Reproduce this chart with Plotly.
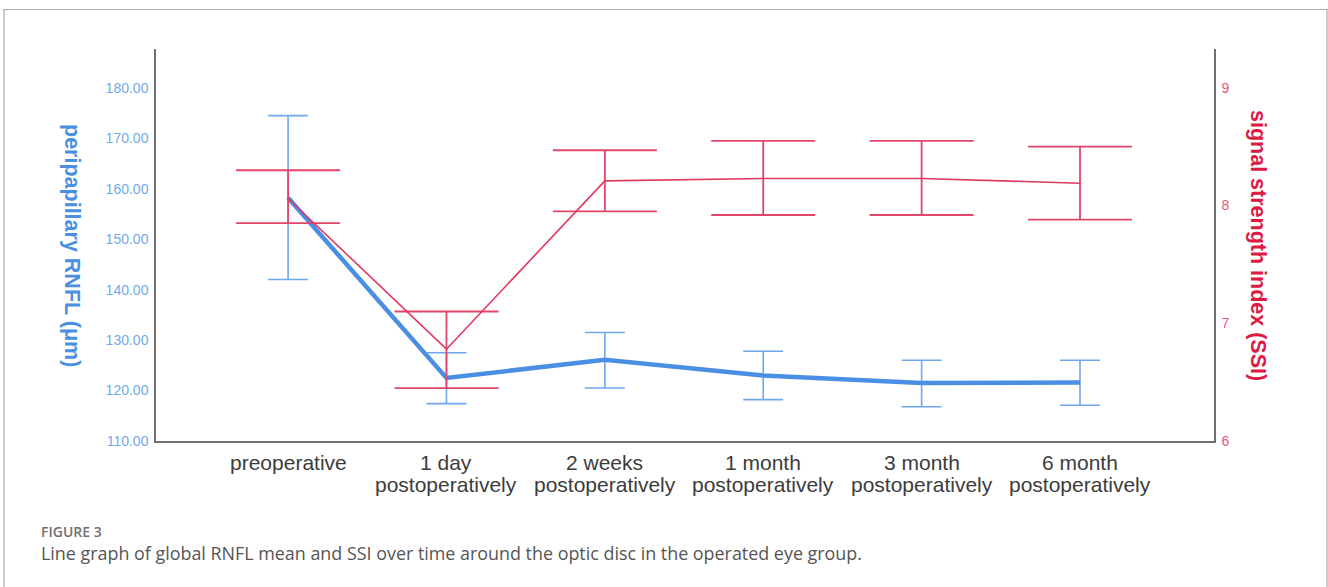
import plotly.graph_objects as go

# Time points (x categories): first and second label lines
label_top = ["preoperative", "1 day", "2 weeks", "1 month", "3 month", "6 month"]
label_bottom = ["", "postoperatively", "postoperatively", "postoperatively",
                "postoperatively", "postoperatively"]

# Peripapillary RNFL (µm): mean with upper / lower error-bar limits
rnfl_mean = [158.2, 122.5, 126.1, 123.0, 121.5, 121.6]
rnfl_upper = [174.5, 127.5, 131.5, 127.8, 126.0, 126.0]
rnfl_lower = [142.0, 117.4, 120.5, 118.2, 116.8, 117.1]

# Signal strength index (SSI): mean with upper / lower error-bar limits
ssi_mean = [8.06, 6.78, 8.21, 8.23, 8.23, 8.19]
ssi_upper = [8.30, 7.10, 8.47, 8.55, 8.55, 8.50]
ssi_lower = [7.85, 6.45, 7.95, 7.92, 7.92, 7.88]

# Axis tick labels
rnfl_ticks = [110, 120, 130, 140, 150, 160, 170, 180]
ssi_ticks = [6, 7, 8, 9]

BLUE_LINE = "#4a8fe3"
BLUE_BAR = "#6fa8ec"
BLUE_TICK = "#72a9e8"
BLUE_TITLE = "#4a90e2"
RED_LINE = "#e0395f"
RED_BAR = "#e3456b"
RED_TICK = "#e8557a"
RED_TITLE = "#dc1a42"
AXIS = "#707070"
TEXT = "#3c3c3c"
FONT = "Liberation Sans, Arial, sans-serif"

x = list(range(len(label_top)))

fig = go.Figure()

fig.add_trace(go.Scatter(
    x=x, y=rnfl_mean, mode="lines", yaxis="y",
    line=dict(color=BLUE_LINE, width=4.5),
    error_y=dict(
        type="data", symmetric=False,
        array=[u - m for u, m in zip(rnfl_upper, rnfl_mean)],
        arrayminus=[m - l for m, l in zip(rnfl_mean, rnfl_lower)],
        color=BLUE_BAR, thickness=1.6, width=20,
    ),
    showlegend=False,
))

fig.add_trace(go.Scatter(
    x=x, y=ssi_mean, mode="lines", yaxis="y2",
    line=dict(color=RED_LINE, width=1.6),
    error_y=dict(
        type="data", symmetric=False,
        array=[u - m for u, m in zip(ssi_upper, ssi_mean)],
        arrayminus=[m - l for m, l in zip(ssi_mean, ssi_lower)],
        color=RED_BAR, thickness=1.8, width=52,
    ),
    showlegend=False,
))

L, R, T, B = 156, 114, 49, 146
W, H = 1328, 587
pw, ph = W - L - R, H - T - B


def px_x(p):
    return (p - L) / pw


def px_y(p):
    return (H - B - p) / ph


annotations = [
    dict(text="<b>peripapillary RNFL (μm)</b>", xref="paper", yref="paper",
         x=px_x(72), y=px_y(245), textangle=90, showarrow=False,
         xanchor="center", yanchor="middle",
         font=dict(size=21.5, color=BLUE_TITLE, family=FONT)),
    dict(text="<b>signal strength index (SSI)</b>", xref="paper", yref="paper",
         x=px_x(1258), y=px_y(245), textangle=90, showarrow=False,
         xanchor="center", yanchor="middle",
         font=dict(size=21.5, color=RED_TITLE, family=FONT)),
    dict(text="FIGURE 3", xref="paper", yref="paper",
         x=px_x(39), y=px_y(531), showarrow=False,
         xanchor="left", yanchor="middle",
         font=dict(size=14, color="#707070", family="Open Sans, sans-serif",
                   weight=600)),
    dict(text="Line graph of global RNFL mean and SSI over time around the optic disc in the operated eye group.",
         xref="paper", yref="paper",
         x=px_x(39), y=px_y(553), showarrow=False,
         xanchor="left", yanchor="middle",
         font=dict(size=17.9, color="#555555", family="Open Sans, sans-serif")),
]

# Category labels, two lines per time point
for xi, top, bottom in zip(x, label_top, label_bottom):
    annotations.append(dict(
        text=top, xref="x", yref="paper", x=xi, y=px_y(463),
        showarrow=False, xanchor="center", yanchor="middle",
        font=dict(size=21, color=TEXT, family=FONT)))
    if bottom:
        annotations.append(dict(
            text=bottom, xref="x", yref="paper", x=xi, y=px_y(484),
            showarrow=False, xanchor="center", yanchor="middle",
            font=dict(size=21, color=TEXT, family=FONT)))

fig.update_layout(
    width=W, height=H,
    margin=dict(l=L, r=R, t=T, b=B, pad=0),
    paper_bgcolor="white", plot_bgcolor="white",
    font=dict(family=FONT, color=TEXT),
    xaxis=dict(
        range=[-0.834, 5.846], tickvals=x, showticklabels=False,
        showgrid=False, zeroline=False, showline=True,
        linecolor=AXIS, linewidth=1.5, ticks="",
    ),
    yaxis=dict(
        range=[110, 187.7], tickvals=rnfl_ticks,
        ticktext=[f"{v:.2f}" for v in rnfl_ticks],
        showgrid=False, zeroline=False, showline=True,
        linecolor=AXIS, linewidth=1.5, ticks="",
        ticklabelstandoff=3,
        tickfont=dict(size=14, color=BLUE_TICK),
    ),
    yaxis2=dict(
        range=[6, 9.33], tickvals=ssi_ticks, overlaying="y", side="right",
        showgrid=False, zeroline=False, showline=True,
        linecolor=AXIS, linewidth=1.5, ticks="",
        ticklabelstandoff=3,
        tickfont=dict(size=14, color=RED_TICK),
    ),
    shapes=[dict(
        type="rect", xref="paper", yref="paper",
        x0=px_x(4), x1=px_x(1327), y0=px_y(600), y1=px_y(9.5),
        line=dict(color="#a8a8a8", width=1.2), fillcolor="rgba(0,0,0,0)",
        layer="below",
    )],
    annotations=annotations,
)

fig.write_html("out.html")
